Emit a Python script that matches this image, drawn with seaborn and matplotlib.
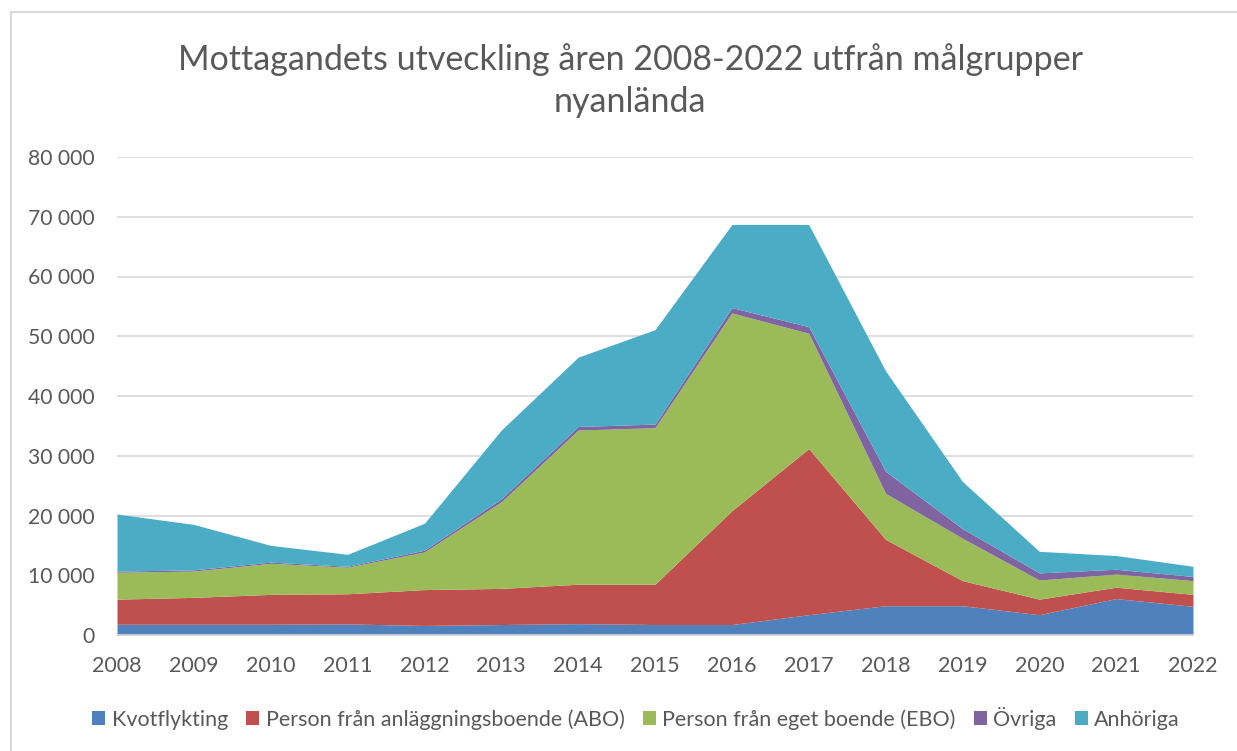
import matplotlib
matplotlib.use("Agg")
import matplotlib.pyplot as plt
import seaborn as sns
import pandas as pd
from matplotlib.patches import Patch
from matplotlib.lines import Line2D
from matplotlib.ticker import FuncFormatter

years = list(range(2008, 2023))
kvot = [1800, 1800, 1800, 1850, 1600, 1750, 1900, 1750, 1750, 3400, 4900, 4900, 3400, 6100, 4800]
abo = [4200, 4500, 5000, 5050, 6000, 6050, 6600, 6750, 19050, 27800, 11100, 4200, 2600, 1900, 2000]
ebo = [4500, 4400, 5200, 4450, 6300, 14500, 25800, 26200, 33100, 19300, 7700, 7100, 3200, 2200, 2300]
ovriga = [200, 200, 200, 150, 300, 500, 600, 600, 900, 1100, 3700, 1600, 1200, 800, 700]
anhoriga = [9550, 7600, 2800, 2000, 4500, 11500, 11600, 15800, 13900, 17100, 16800, 7900, 3600, 2300, 1700]

series_names = ["Kvotflykting", "Person från anläggningsboende (ABO)",
                "Person från eget boende (EBO)", "Övriga", "Anhöriga"]
colors = ["#4F81BD", "#C0504D", "#9BBB59", "#8064A2", "#4BACC6"]
title = "Mottagandets utveckling åren 2008-2022 utfrån målgrupper\nnyanlända"

df = pd.DataFrame({"År": years, series_names[0]: kvot, series_names[1]: abo,
                   series_names[2]: ebo, series_names[3]: ovriga, series_names[4]: anhoriga})

sns.set_theme(style="white")
plt.rcParams['font.family'] = ['Lato', 'DejaVu Sans']
text_color = "#595959"

fig = plt.figure(figsize=(12.37, 7.51), dpi=100)
W, H = 1237, 751
ax = fig.add_axes([117 / W, (H - 635) / H, (1193 - 117) / W, (635 - 157) / H])

ax.stackplot(df["År"], *[df[n] for n in series_names], colors=colors,
             labels=series_names, linewidth=0)

ax.set_xlim(2008, 2022)
ax.set_ylim(0, 80000)
ax.set_xticks(years)
ax.set_yticks(range(0, 80001, 10000))
ax.yaxis.set_major_formatter(FuncFormatter(lambda v, p: f"{int(v):,}".replace(",", " ")))
ax.grid(axis="y", color="#D9D9D9", linewidth=1.2)
ax.set_axisbelow(True)
for s in ["top", "right", "left"]:
    ax.spines[s].set_visible(False)
ax.spines["bottom"].set_color("#D9D9D9")
ax.spines["bottom"].set_linewidth(1.2)
ax.spines["bottom"].set_zorder(5)
ax.tick_params(axis="x", direction="out", length=6, width=1.2, color="#D9D9D9",
               labelsize=15.5, labelcolor=text_color, pad=9)
ax.tick_params(axis="y", length=0, labelsize=15.2, labelcolor=text_color, pad=16)
ax.set_xlabel("")
ax.set_ylabel("")

fig.text(630 / W, 1 - 81 / H, title, ha="center", va="center", fontsize=24.5,
         color=text_color, linespacing=1.38)

handles = [Patch(facecolor=c, edgecolor="none") for c in colors]
fig.legend(handles, series_names, loc="center", bbox_to_anchor=(636 / W, 1 - 718 / H),
           ncol=5, frameon=False, fontsize=15.5, labelcolor=text_color,
           handlelength=0.6, handleheight=0.6, handletextpad=0.3, columnspacing=0.85)

# outer chart border
fig.add_artist(Line2D([11 / W, 11 / W], [0, 1 - 12 / H], transform=fig.transFigure,
                      color="#D9D9D9", linewidth=1.5))
fig.add_artist(Line2D([11 / W, 1], [1 - 12 / H, 1 - 12 / H], transform=fig.transFigure,
                      color="#D9D9D9", linewidth=1.5))

fig.savefig("out.png", dpi=100, facecolor="white")
